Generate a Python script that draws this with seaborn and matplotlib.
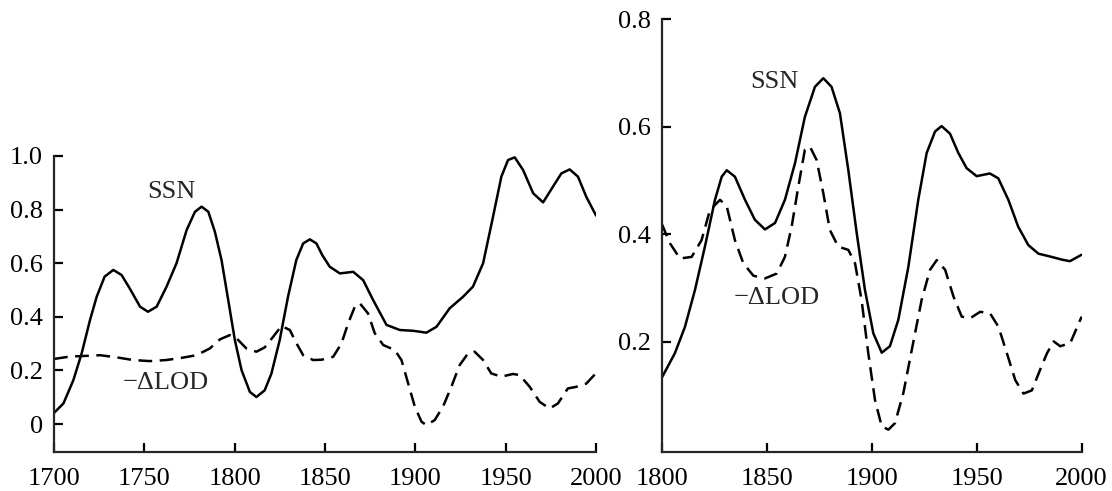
import numpy as np
import pandas as pd
import matplotlib
matplotlib.use("Agg")
import matplotlib.pyplot as plt
import seaborn as sns

sns.set_theme(style="ticks")
plt.rcParams['font.family'] = ['Liberation Serif', 'DejaVu Serif']

# left panel: 1700-2000
left_ssn_year = [1700, 1705.2, 1710.7, 1715.3, 1719.9, 1723.6, 1728, 1732.8, 1737.4, 1741.9,
                 1747.6, 1752, 1756.8, 1762.3, 1767.8, 1773.4, 1778, 1781.7, 1785.4, 1789,
                 1792.7, 1796.4, 1800.1, 1803.8, 1808.4, 1812, 1816.6, 1820.3, 1824.9,
                 1829.5, 1834.1, 1837.9, 1841.6, 1845.2, 1848.5, 1852.6, 1858.2, 1865.6,
                 1871.1, 1876.6, 1884, 1891.4, 1898.8, 1906.1, 1911.7, 1919, 1926.4,
                 1931.9, 1937.5, 1943, 1947.6, 1951.3, 1955, 1959.6, 1965.2, 1970.7,
                 1976.2, 1980.8, 1985.4, 1990, 1994.6, 2000]
left_ssn = [0.042, 0.077, 0.164, 0.264, 0.388, 0.475, 0.55, 0.575, 0.556, 0.506,
            0.438, 0.419, 0.438, 0.513, 0.600, 0.724, 0.792, 0.811, 0.792, 0.718,
            0.612, 0.463, 0.313, 0.201, 0.12, 0.101, 0.126, 0.188, 0.313,
            0.475, 0.612, 0.674, 0.689, 0.674, 0.630, 0.587, 0.562, 0.568,
            0.537, 0.463, 0.370, 0.351, 0.348, 0.341, 0.363, 0.432, 0.475,
            0.513, 0.600, 0.774, 0.923, 0.985, 0.995, 0.948, 0.861, 0.827,
            0.886, 0.935, 0.950, 0.923, 0.848, 0.778]

left_lod_year = [1700, 1708.8, 1716.2, 1725.4, 1734.6, 1743.7, 1753, 1762.2, 1771.4, 1778.8,
                 1786.2, 1791.8, 1797.3, 1801, 1806.5, 1812, 1816.6, 1821.3, 1825.9, 1830.5,
                 1834.2, 1837.9, 1843.4, 1848, 1854.5, 1859.1, 1862.8, 1866.5, 1869.2,
                 1873.8, 1877.5, 1882.2, 1888.6, 1892.3, 1896, 1899.7, 1903.4, 1906.1,
                 1910.7, 1915.3, 1919.9, 1924.5, 1929.2, 1932.8, 1937.5, 1942, 1947.6,
                 1954, 1957.7, 1963.3, 1968.8, 1974.3, 1978.9, 1984.4, 1989, 1994.6, 2000]
left_lod = [0.243, 0.252, 0.254, 0.257, 0.249, 0.239, 0.235, 0.239, 0.248, 0.257,
            0.282, 0.316, 0.332, 0.32, 0.282, 0.270, 0.286, 0.326, 0.366, 0.351,
            0.301, 0.257, 0.239, 0.240, 0.251, 0.301, 0.376, 0.438, 0.451,
            0.413, 0.339, 0.295, 0.276, 0.239, 0.152, 0.065, 0.009, -0.004,
            0.015, 0.065, 0.139, 0.22, 0.264, 0.270, 0.239, 0.189, 0.177,
            0.187, 0.183, 0.139, 0.083, 0.058, 0.077, 0.133, 0.139, 0.151, 0.19]

# right panel: 1800-2000
right_ssn_year = [1800, 1806.3, 1811.1, 1815.9, 1820.6, 1825.4, 1828.6, 1831, 1834.9, 1839.7,
                  1844.4, 1849.2, 1854, 1858.7, 1863.5, 1868.2, 1873, 1877, 1880.9, 1884.9,
                  1888.9, 1892.9, 1896.8, 1900.8, 1904.8, 1908.7, 1912.7, 1917.5, 1922.2,
                  1926.2, 1930.2, 1933.3, 1937.3, 1941.3, 1945.2, 1950, 1956.3, 1960.3,
                  1965.1, 1969.8, 1974.6, 1979.4, 1985.7, 1990.5, 1994.4, 2000]
right_ssn = [0.133, 0.179, 0.228, 0.297, 0.377, 0.464, 0.507, 0.519, 0.507, 0.464,
             0.427, 0.409, 0.421, 0.464, 0.532, 0.618, 0.674, 0.690, 0.674, 0.625,
             0.519, 0.402, 0.297, 0.216, 0.180, 0.192, 0.241, 0.340, 0.464,
             0.551, 0.591, 0.601, 0.587, 0.551, 0.523, 0.508, 0.513, 0.504,
             0.464, 0.414, 0.380, 0.364, 0.358, 0.353, 0.350, 0.362]

right_lod_year = [1800, 1804, 1808.7, 1814.3, 1819, 1823, 1827.8, 1831, 1834.9, 1838.9,
                  1843.7, 1849.2, 1854.8, 1858.7, 1861.9, 1865.1, 1868.2, 1870.6, 1873.8,
                  1877, 1880.1, 1884.1, 1888.9, 1892.1, 1895.2, 1898.4, 1901.6, 1904.8,
                  1908, 1911.1, 1915.1, 1919.1, 1923.8, 1927.8, 1931, 1935, 1939, 1942.9,
                  1946.9, 1951.7, 1956.4, 1960.4, 1964.4, 1968.4, 1972.3, 1976.3, 1980.3,
                  1983.5, 1986.7, 1989.8, 1994.6, 2000]
right_lod = [0.42, 0.383, 0.355, 0.358, 0.389, 0.445, 0.464, 0.452, 0.389, 0.346,
             0.323, 0.318, 0.327, 0.358, 0.414, 0.489, 0.557, 0.563, 0.538,
             0.476, 0.408, 0.377, 0.371, 0.346, 0.278, 0.179, 0.092, 0.043,
             0.037, 0.049, 0.105, 0.185, 0.278, 0.334, 0.352, 0.334, 0.284, 0.247,
             0.244, 0.256, 0.253, 0.228, 0.179, 0.129, 0.104, 0.110, 0.149,
             0.179, 0.201, 0.192, 0.198, 0.247]

left_yticks = [0, 0.2, 0.4, 0.6, 0.8, 1.0]
left_ylabels = ['0', '0.2', '0.4', '0.6', '0.8', '1.0']
left_xticks = [1700, 1750, 1800, 1850, 1900, 1950, 2000]
right_yticks = [0.2, 0.4, 0.6, 0.8]
right_ylabels = ['0.2', '0.4', '0.6', '0.8']
right_xticks = [1800, 1850, 1900, 1950, 2000]

fig = plt.figure(figsize=(11.12, 4.91), dpi=100)
ax1 = fig.add_axes([0.0486, 0.080, 0.4874, 0.6023])
ax2 = fig.add_axes([0.5950, 0.080, 0.3777, 0.8813])

dash = (5.5, 3.0)
fs = 19


def draw_panel(ax, sy, s, ly, l):
    sns.lineplot(x=sy, y=s, ax=ax, color='black', lw=1.8, estimator=None, sort=False)
    sns.lineplot(x=ly, y=l, ax=ax, color='black', lw=1.8, estimator=None, sort=False)
    ax.lines[-1].set_dashes(dash)
    for ln in ax.lines:
        ln.set_solid_joinstyle('round')
        ln.set_dash_joinstyle('round')
    sns.despine(ax=ax)
    for sp in ['left', 'bottom']:
        ax.spines[sp].set_linewidth(1.6)
    ax.tick_params(direction='in', length=6.5, width=1.6, labelsize=fs, colors='black')
    ax.tick_params(axis='x', pad=12)
    ax.tick_params(axis='y', pad=8)
    ax.set_xlabel('')
    ax.set_ylabel('')


draw_panel(ax1, left_ssn_year, left_ssn, left_lod_year, left_lod)
ax1.set_xlim(1700, 2000)
ax1.set_ylim(-0.103, 1.0)
ax1.set_xticks(left_xticks)
ax1.set_yticks(left_yticks)
ax1.set_yticklabels(left_ylabels)
ax1.text(1765, 0.866, 'SSN', fontsize=fs, ha='center', va='center')
ax1.text(1762, 0.153, '\u2212\u0394LOD', fontsize=fs, ha='center', va='center')

draw_panel(ax2, right_ssn_year, right_ssn, right_lod_year, right_lod)
ax2.set_xlim(1800, 2000)
ax2.set_ylim(-0.004, 0.8)
ax2.set_xticks(right_xticks)
ax2.set_yticks(right_yticks)
ax2.set_yticklabels(right_ylabels)
ax2.text(1853.5, 0.683, 'SSN', fontsize=fs, ha='center', va='center')
ax2.text(1855, 0.282, '\u2212\u0394LOD', fontsize=fs, ha='center', va='center')

fig.savefig('out.png', dpi=100)
